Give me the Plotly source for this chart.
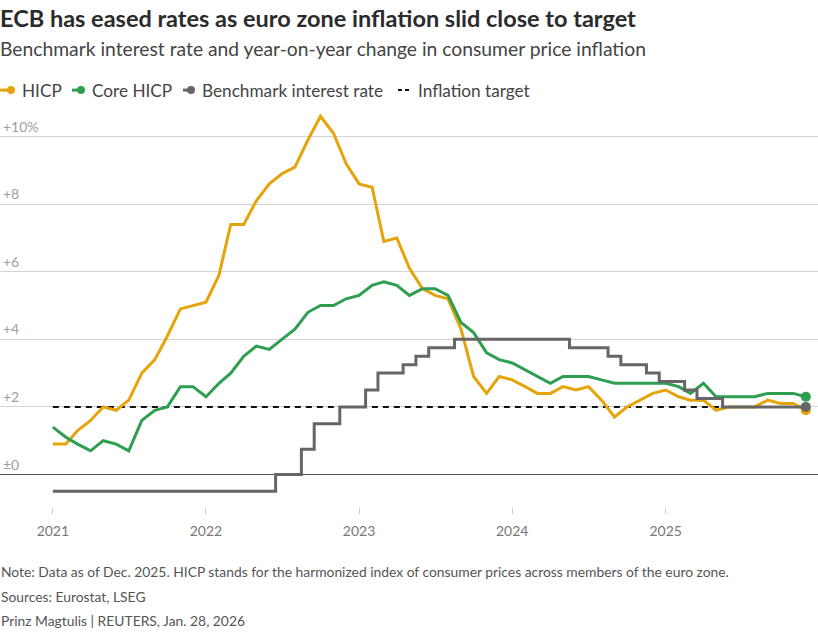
import pandas as pd
import plotly.graph_objects as go

# ---------------- data ----------------
months = pd.date_range("2021-01-01", "2025-12-01", freq="MS")

hicp = [0.9, 0.9, 1.3, 1.6, 2.0, 1.9, 2.2, 3.0, 3.4, 4.1, 4.9, 5.0,
        5.1, 5.9, 7.4, 7.4, 8.1, 8.6, 8.9, 9.1, 9.9, 10.6, 10.1, 9.2,
        8.6, 8.5, 6.9, 7.0, 6.1, 5.5, 5.3, 5.2, 4.3, 2.9, 2.4, 2.9,
        2.8, 2.6, 2.4, 2.4, 2.6, 2.5, 2.6, 2.2, 1.7, 2.0, 2.2, 2.4,
        2.5, 2.3, 2.2, 2.2, 1.9, 2.0, 2.0, 2.0, 2.2, 2.1, 2.1, 1.9]

core_hicp = [1.4, 1.1, 0.9, 0.7, 1.0, 0.9, 0.7, 1.6, 1.9, 2.0, 2.6, 2.6,
             2.3, 2.7, 3.0, 3.5, 3.8, 3.7, 4.0, 4.3, 4.8, 5.0, 5.0, 5.2,
             5.3, 5.6, 5.7, 5.6, 5.3, 5.5, 5.5, 5.3, 4.5, 4.2, 3.6, 3.4,
             3.3, 3.1, 2.9, 2.7, 2.9, 2.9, 2.9, 2.8, 2.7, 2.7, 2.7, 2.7,
             2.7, 2.6, 2.4, 2.7, 2.3, 2.3, 2.3, 2.3, 2.4, 2.4, 2.4, 2.3]

benchmark_rate = [-0.5] * 12 + \
    [-0.5, -0.5, -0.5, -0.5, -0.5, -0.5, 0.0, 0.0, 0.75, 1.5, 1.5, 2.0] + \
    [2.0, 2.5, 3.0, 3.0, 3.25, 3.5, 3.75, 3.75, 4.0, 4.0, 4.0, 4.0] + \
    [4.0, 4.0, 4.0, 4.0, 4.0, 3.75, 3.75, 3.75, 3.5, 3.25, 3.25, 3.0] + \
    [2.75, 2.75, 2.5, 2.25, 2.25, 2.0, 2.0, 2.0, 2.0, 2.0, 2.0, 2.0]

inflation_target = [2.0] * len(months)

year_ticks = ["2021-01-01", "2022-01-01", "2023-01-01", "2024-01-01", "2025-01-01"]
year_labels = ["2021", "2022", "2023", "2024", "2025"]
y_ticks = [0, 2, 4, 6, 8, 10]
y_labels = ["±0", "+2", "+4", "+6", "+8", "+10%"]

# ---------------- style ----------------
W, H = 818, 635
TOP, BOTTOM = 113.4, 507.0          # plot area in pixels
FONT = "Lato"
C_HICP = "#E5A50A"
C_CORE = "#2E9E50"
C_RATE = "#666666"
C_TARGET = "#111111"


def py(pix):
    """pixel row -> paper y"""
    return (BOTTOM - pix) / (BOTTOM - TOP)


def px(pix):
    return pix / W


fig = go.Figure()

fig.add_trace(go.Scatter(x=months, y=inflation_target, mode="lines",
                         line=dict(color=C_TARGET, width=2, dash="6px,5px"),
                         hoverinfo="skip", showlegend=False))
fig.add_trace(go.Scatter(x=months, y=hicp, mode="lines",
                         line=dict(color=C_HICP, width=3), showlegend=False))
fig.add_trace(go.Scatter(x=months, y=core_hicp, mode="lines",
                         line=dict(color=C_CORE, width=3), showlegend=False))
fig.add_trace(go.Scatter(x=months, y=benchmark_rate, mode="lines",
                         line=dict(color=C_RATE, width=3, shape="hvh"),
                         showlegend=False))
# end markers
for series, col in [(hicp, C_HICP), (core_hicp, C_CORE), (benchmark_rate, C_RATE)]:
    fig.add_trace(go.Scatter(x=[months[-1]], y=[series[-1]], mode="markers",
                             marker=dict(color=col, size=10), showlegend=False,
                             cliponaxis=False))

fig.update_xaxes(
    range=["2020-08-28", "2025-12-30"],
    tickvals=year_ticks, ticktext=year_labels,
    showgrid=False, zeroline=False, showline=False,
    ticks="outside", ticklen=6, tickcolor="#cccccc", tickwidth=1,
    ticklabelstandoff=5,
    tickfont=dict(family=FONT, size=14, color="#777777"),
)
fig.update_yaxes(
    range=[-(BOTTOM - 474.5) / 33.75, (474.5 - TOP) / 33.75],
    tickvals=y_ticks, ticktext=y_labels,
    ticklabelposition="inside top",
    showgrid=True, gridcolor="#d4d4d4", gridwidth=1,
    zeroline=True, zerolinecolor="#555555", zerolinewidth=1.5,
    showline=False, ticks="",
    tickfont=dict(family=FONT, size=14, color="#a0a0a0"),
)

annotations = []
shapes = []


def text(x, y, s, size, color, bold=False):
    annotations.append(dict(
        x=px(x), y=py(y), xref="paper", yref="paper", xanchor="left", yanchor="middle",
        text=f"<b>{s}</b>" if bold else s, showarrow=False, borderpad=0,
        font=dict(family=FONT, size=size, color=color)))


text(-1, 18, "ECB has eased rates as euro zone inflation slid close to target", 23.5, "#2b2b2b", bold=True)
text(-1, 49, "Benchmark interest rate and year-on-year change in consumer price inflation", 19.3, "#444444")

# legend
LEG_Y = 90.5
for (x0, x1, label, col) in [(0, 11, "HICP", C_HICP), (72, 81, "Core HICP", C_CORE),
                             (183, 191, "Benchmark interest rate", C_RATE)]:
    shapes.append(dict(type="line", xref="paper", yref="paper", x0=px(x0), x1=px(x1),
                       y0=py(LEG_Y), y1=py(LEG_Y), line=dict(color=col, width=3)))
    shapes.append(dict(type="circle", xref="paper", yref="paper", x0=px(x1 - 4), x1=px(x1 + 4),
                       y0=py(LEG_Y + 4), y1=py(LEG_Y - 4), fillcolor=col, line=dict(width=0)))
    text(x1 + 10, LEG_Y, label, 17.2, "#444444")
shapes.append(dict(type="line", xref="paper", yref="paper", x0=px(398), x1=px(412),
                   y0=py(LEG_Y), y1=py(LEG_Y), line=dict(color=C_TARGET, width=2, dash="4px,3px")))
text(417, LEG_Y, "Inflation target", 17.2, "#444444")

# footer
text(0, 571, "Note: Data as of Dec. 2025. HICP stands for the harmonized index of consumer prices across members of the euro zone.", 13.85, "#555555")
text(0, 596, "Sources: Eurostat, LSEG", 13.85, "#555555")
text(0, 620, "Prinz Magtulis | REUTERS, Jan. 28, 2026", 13.85, "#555555")

fig.update_layout(
    width=W, height=H,
    margin=dict(l=0, r=0, t=TOP, b=H - BOTTOM, pad=0),
    paper_bgcolor="white", plot_bgcolor="white",
    annotations=annotations, shapes=shapes,
    showlegend=False,
    hovermode=False,
    font=dict(family=FONT),
)

fig.write_html("out.html",
               config={"displayModeBar": False, "staticPlot": True},
               post_script="document.body.style.margin='0px';document.body.style.overflow='hidden';")
